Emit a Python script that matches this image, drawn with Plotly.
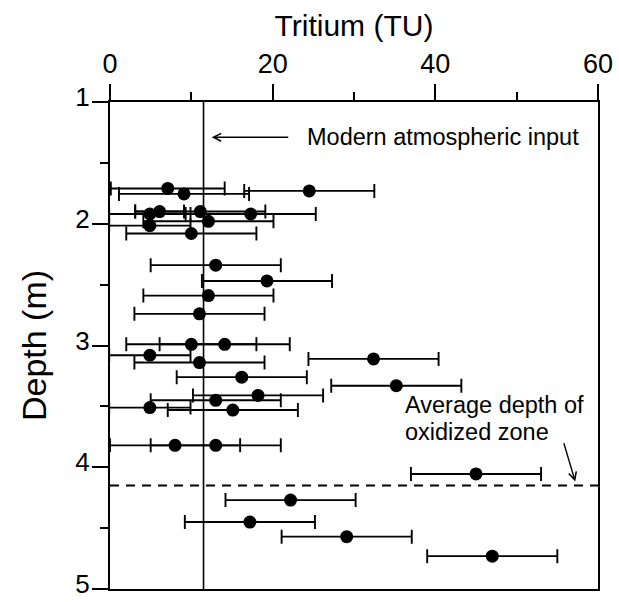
import plotly.graph_objects as go

# Data
tritium_tu = [7.1, 24.5, 9.1, 6.1, 11.1, 4.9, 17.3, 12.1, 4.9, 10.0,
              13.0, 19.3, 12.1, 11.0, 10.0, 14.1, 4.9, 32.4, 11.0, 16.2,
              35.2, 18.2, 13.0, 4.9, 15.1, 8.0, 13.0, 45.0, 22.2, 17.2,
              29.1, 47.0]
depth_m = [1.71, 1.73, 1.755, 1.90, 1.90, 1.92, 1.92, 1.98, 2.015, 2.08,
           2.34, 2.47, 2.59, 2.74, 2.99, 2.99, 3.08, 3.11, 3.14, 3.26,
           3.33, 3.41, 3.45, 3.51, 3.53, 3.82, 3.82, 4.055, 4.27, 4.45,
           4.57, 4.73]
error_tu = [7, 8, 8, 3, 8, 5, 8, 8, 5, 8,
            8, 8, 8, 8, 8, 8, 5, 8, 8, 8,
            8, 8, 8, 5, 8, 8, 8, 8, 8, 8,
            8, 8]

modern_input_tu = 11.5
oxidized_depth_m = 4.15

x_ticks = [0, 20, 40, 60]
y_ticks = [1, 2, 3, 4, 5]

FONT = "Liberation Sans, Arial, sans-serif"

fig = go.Figure()

fig.add_trace(go.Scatter(
    x=tritium_tu, y=depth_m, mode="markers",
    marker=dict(color="black", size=13),
    error_x=dict(type="data", array=error_tu, visible=True,
                 color="black", thickness=1.9, width=7),
    showlegend=False,
))

# Modern atmospheric input vertical line
fig.add_shape(type="line", xref="x", yref="y",
              x0=modern_input_tu, x1=modern_input_tu, y0=1, y1=5,
              line=dict(color="black", width=1.6))
# Average depth of oxidized zone dashed line
fig.add_shape(type="line", xref="x", yref="y",
              x0=0, x1=60, y0=oxidized_depth_m, y1=oxidized_depth_m,
              line=dict(color="black", width=1.8, dash="9px,7px"))

# Annotations
fig.add_annotation(x=12.5, y=1.29, ax=22.1, ay=1.29, axref="x", ayref="y",
                   xref="x", yref="y", text="", showarrow=True,
                   arrowhead=5, arrowsize=1.1, arrowwidth=1.4, arrowcolor="black")
fig.add_annotation(x=24.0, y=1.29, xref="x", yref="y",
                   text="Modern atmospheric input", showarrow=False,
                   xanchor="left", yanchor="middle",
                   font=dict(family=FONT, size=23.5, color="black"))
fig.add_annotation(x=36.0, y=3.49, xref="x", yref="y",
                   text="Average depth of", showarrow=False,
                   xanchor="left", yanchor="middle",
                   font=dict(family=FONT, size=23.5, color="black"))
fig.add_annotation(x=36.0, y=3.71, xref="x", yref="y",
                   text="oxidized zone", showarrow=False,
                   xanchor="left", yanchor="middle",
                   font=dict(family=FONT, size=23.5, color="black"))
fig.add_annotation(x=57.2, y=4.118, ax=55.75, ay=3.79, axref="x", ayref="y",
                   xref="x", yref="y", text="", showarrow=True,
                   arrowhead=5, arrowsize=1.1, arrowwidth=1.4, arrowcolor="black")

fig.update_xaxes(
    range=[0, 60], side="top", tickvals=x_ticks,
    ticks="outside", ticklen=16, tickwidth=1.8, tickcolor="black",
    minor=dict(dtick=10, ticks="outside", ticklen=8, tickwidth=1.8, tickcolor="black"),
    showline=True, linewidth=2.2, linecolor="black", mirror=True,
    showgrid=False, zeroline=False, ticklabeloverflow="allow",
    tickfont=dict(family=FONT, size=27, color="black"),
    title=dict(text="Tritium (TU)", font=dict(family=FONT, size=30, color="black"),
               standoff=4),
)
fig.update_yaxes(
    range=[5, 1], tickvals=y_ticks,
    ticks="outside", ticklen=16, tickwidth=1.8, tickcolor="black",
    minor=dict(dtick=0.5, ticks="outside", ticklen=8, tickwidth=1.8, tickcolor="black"),
    showline=True, linewidth=2.2, linecolor="black", mirror=True,
    showgrid=False, zeroline=False, ticklabeloverflow="allow",
    ticklabelstandoff=-3, ticklabelshift=5,
    tickfont=dict(family=FONT, size=26, color="black"),
    title=dict(text="Depth (m)", font=dict(family=FONT, size=34, color="black"),
               standoff=18),
)

fig.update_layout(
    width=619, height=602,
    margin=dict(l=110, r=21, t=102, b=13, autoexpand=False),
    plot_bgcolor="white", paper_bgcolor="white",
    font=dict(family=FONT, color="black"),
)

fig.write_html("out.html")
